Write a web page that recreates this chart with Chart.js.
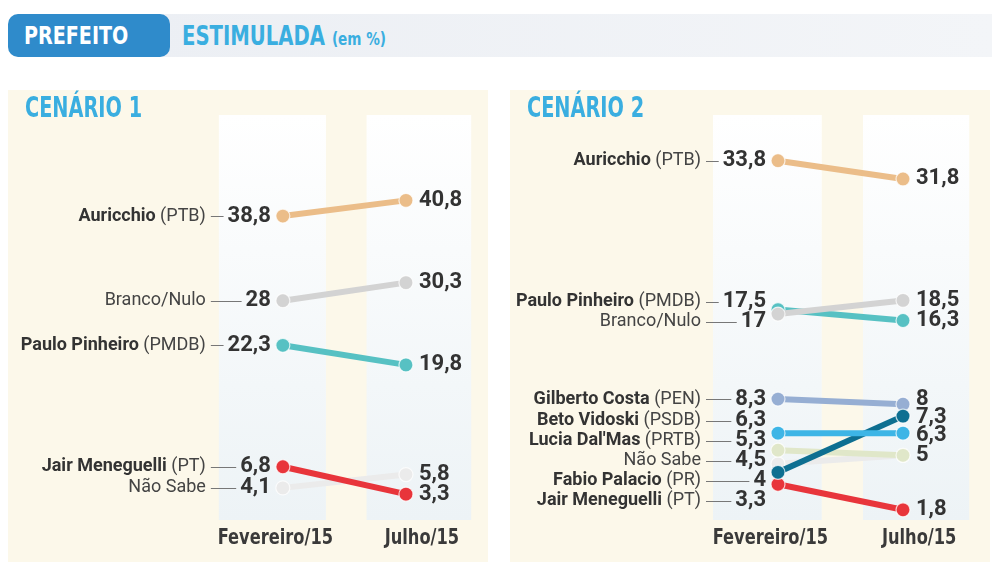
<!DOCTYPE html>
<html>
<head>
<meta charset="utf-8">
<script src="https://cdn.jsdelivr.net/npm/chart.js@4.4.1/dist/chart.umd.min.js"></script>
<style>
  html, body { margin: 0; padding: 0; background: #fff; }
  body { width: 1000px; height: 571px; position: relative; overflow: hidden; font-family: Roboto, sans-serif; }
  .cond { font-family: "Liberation Sans Narrow", "DejaVu Sans Condensed", sans-serif; font-weight: bold; }
  .sq { display: inline-block; transform-origin: left center; white-space: nowrap; }
  #band { position: absolute; left: 150px; top: 14px; width: 842px; height: 43px; background: linear-gradient(90deg, #eceff4, #f3f5f8); }
  #tag { position: absolute; left: 8px; top: 14px; width: 162px; height: 43px; background: #2f8bcb; border-radius: 10px;
         color: #fff; font-size: 25px; line-height: 44px; padding-left: 16px; box-sizing: border-box; }
  #tag .sq { transform: scaleX(0.85); }
  #sub { position: absolute; left: 182px; top: 14px; height: 43px; line-height: 45px; color: #3aaee0; font-size: 26px; }
  #sub .sq { transform: scaleX(0.84); }
  #sub small { font-size: 18px; }
  .panel { position: absolute; top: 90px; width: 480px; height: 472px; background: #fcf8ea; }
  .panel h2 { position: absolute; left: 17px; top: 0px; margin: 0; color: #3aaee0; font-size: 29px; z-index: 2; }
  .panel h2 .sq { transform: scaleX(0.74); }
  .panel canvas { position: absolute; left: 0; top: 0; }
</style>
</head>
<body>
<div id="band"></div>
<div id="tag" class="cond"><span class="sq">PREFEITO</span></div>
<div id="sub" class="cond"><span class="sq">ESTIMULADA <small>(em %)</small></span></div>

<div class="panel" style="left:8px"><h2 class="cond"><span class="sq">CENÁRIO 1</span></h2><canvas id="c1" width="480" height="472"></canvas></div>
<div class="panel" style="left:510px"><h2 class="cond"><span class="sq">CENÁRIO 2</span></h2><canvas id="c2" width="480" height="472"></canvas></div>

<script>
const months = ['Fevereiro/15', 'Julho/15'];

// Cenário 1
const names1 = ['Auricchio', 'Branco/Nulo', 'Paulo Pinheiro', 'Jair Meneguelli', 'Não Sabe'];
const parties1 = ['PTB', '', 'PMDB', 'PT', ''];
const fev1 = [38.8, 28, 22.3, 6.8, 4.1];
const jul1 = [40.8, 30.3, 19.8, 3.3, 5.8];
const colors1 = ['#ebbd89', '#d3d3d3', '#57c1c3', '#e8353b', '#ebebeb'];

// Cenário 2
const names2 = ['Auricchio', 'Paulo Pinheiro', 'Branco/Nulo', 'Gilberto Costa', 'Beto Vidoski',
                "Lucia Dal'Mas", 'Não Sabe', 'Fabio Palacio', 'Jair Meneguelli'];
const parties2 = ['PTB', 'PMDB', '', 'PEN', 'PSDB', 'PRTB', '', 'PR', 'PT'];
const fev2 = [33.8, 17.5, 17, 8.3, 6.3, 5.3, 4.5, 4, 3.3];
const jul2 = [31.8, 16.3, 18.5, 8, 6.3, 5, 5, 7.3, 1.8];
const colors2 = ['#ebbd89', '#57c1c3', '#d3d3d3', '#96aed3', '#3db5e6', '#e0e7c9', '#ebebeb', '#0e6f91', '#e8353b'];

// light columns behind each survey, in x-scale units
const strips = [[-0.52, 0.35], [0.68, 1.53]];

// linear scale with a break: values below breakValue get a bigger share of the height
class BrokenScale extends Chart.LinearScale {
  getPixelForValue(v) {
    const b = this.options.breakValue, f = this.options.breakFraction;
    const d = v <= b ? (v - this.min) / (b - this.min) * f
                     : f + (v - b) / (this.max - b) * (1 - f);
    return this.getPixelForDecimal(d);
  }
  getValueForPixel(p) {
    const b = this.options.breakValue, f = this.options.breakFraction;
    const d = this.getDecimalForPixel(p);
    return d <= f ? this.min + d / f * (b - this.min) : b + (d - f) / (1 - f) * (this.max - b);
  }
}
BrokenScale.id = 'broken';
BrokenScale.defaults = Chart.LinearScale.defaults;
Chart.register(BrokenScale);

const fmt = v => String(v).replace('.', ',');

// push labels apart so they don't overlap
function spread(items, gap) {
  items.sort((a, b) => a.y - b.y);
  for (let k = 0; k < 80; k++) {
    for (let j = 1; j < items.length; j++) {
      const d = items[j].y - items[j - 1].y;
      if (d < gap) { const s = (gap - d) / 2; items[j - 1].y -= s; items[j].y += s; }
    }
  }
}

function panelPlugin(names, parties, fev, jul) {
  return {
    id: 'panel',
    beforeDatasetsDraw(chart) {
      const { ctx, chartArea: a, scales: { x } } = chart;
      strips.forEach(([s, e], i) => {
        const l = x.getPixelForValue(s), r = x.getPixelForValue(e);
        const g = ctx.createLinearGradient(0, a.top, 0, a.bottom);
        g.addColorStop(0, '#ffffff');
        g.addColorStop(1, '#edf3f6');
        ctx.save();
        ctx.fillStyle = g;
        ctx.fillRect(l, a.top, r - l, a.bottom - a.top);
        // month label, squeezed to look condensed
        ctx.translate((l + r) / 2 + 3, a.bottom + 19);
        ctx.scale(0.86, 1);
        ctx.fillStyle = '#3a3a3a';
        ctx.font = 'bold 21px "Liberation Sans Narrow", "DejaVu Sans Condensed", sans-serif';
        ctx.textAlign = 'center';
        ctx.textBaseline = 'middle';
        ctx.fillText(months[i], 0, 0);
        ctx.restore();
      });
    },
    afterDatasetsDraw(chart) {
      const { ctx, scales: { x, y } } = chart;
      const x0 = x.getPixelForValue(0), x1 = x.getPixelForValue(1);
      ctx.save();
      ctx.textBaseline = 'middle';

      // left side: name (party) — value
      const left = fev.map((v, i) => ({ y: y.getPixelForValue(v), i }));
      spread(left, 20);
      const nameRight = x0 - 77;
      left.forEach(({ y: ly, i }) => {
        ctx.font = 'bold 22px Roboto';
        ctx.textAlign = 'right';
        ctx.fillStyle = '#333';
        const val = fmt(fev[i]);
        ctx.fillText(val, x0 - 12, ly);
        const valLeft = x0 - 12 - ctx.measureText(val).width;
        let r = nameRight;
        ctx.fillStyle = '#444';
        if (parties[i]) {
          ctx.font = '18px Roboto';
          const p = ' (' + parties[i] + ')';
          ctx.fillText(p, r, ly);
          r -= ctx.measureText(p).width;
          ctx.font = 'bold 18px Roboto';
          ctx.fillStyle = '#333';
        } else {
          ctx.font = '18px Roboto';
        }
        ctx.fillText(names[i], r, ly);
        ctx.strokeStyle = '#777';
        ctx.lineWidth = 1;
        ctx.beginPath();
        ctx.moveTo(nameRight + 5, Math.round(ly) + 0.5);
        ctx.lineTo(valLeft - 4, Math.round(ly) + 0.5);
        ctx.stroke();
      });

      // right side: value only, equal values shown once
      const right = [];
      jul.forEach((v, i) => {
        if (!right.some(o => jul[o.i] === v)) right.push({ y: y.getPixelForValue(v), i });
      });
      spread(right, 18);
      ctx.font = 'bold 22px Roboto';
      ctx.textAlign = 'left';
      ctx.fillStyle = '#333';
      right.forEach(({ y: ry, i }) => ctx.fillText(fmt(jul[i]), x1 + 13, ry));
      ctx.restore();
    }
  };
}

function makeChart(id, names, parties, fev, jul, colors, front, yScale, padLeft, padRight) {
  const datasets = names.map((n, i) => ({
    label: n,
    data: [{ x: 0, y: fev[i] }, { x: 1, y: jul[i] }],
    borderColor: colors[i],
    backgroundColor: colors[i],
    pointBackgroundColor: colors[i],
    pointBorderColor: 'rgba(255,255,255,0.75)',
    pointBorderWidth: 1.2,
    pointRadius: 7,
    borderWidth: 6,
    clip: false,
    order: front.includes(n) ? front.indexOf(n) - front.length : i
  }));
  return new Chart(document.getElementById(id), {
    type: 'line',
    data: { datasets },
    options: {
      responsive: false,
      animation: false,
      layout: { padding: { left: padLeft, right: padRight, top: 25, bottom: 42 } },
      plugins: { legend: { display: false }, tooltip: { enabled: false } },
      scales: {
        x: { type: 'linear', min: -0.6, max: 1.6, display: false },
        y: Object.assign({ display: false }, yScale)
      }
    },
    plugins: [panelPlugin(names, parties, fev, jul)]
  });
}

makeChart('c1', names1, parties1, fev1, jul1, colors1, [],
  { type: 'linear', min: 0, max: 51.7 }, 201, 8);
makeChart('c2', names2, parties2, fev2, jul2, colors2, ['Branco/Nulo', 'Beto Vidoski', 'Fabio Palacio'],
  { type: 'broken', min: 1.2, max: 38.8, breakValue: 9, breakFraction: 0.328 }, 193, 12);
</script>
</body>
</html>
